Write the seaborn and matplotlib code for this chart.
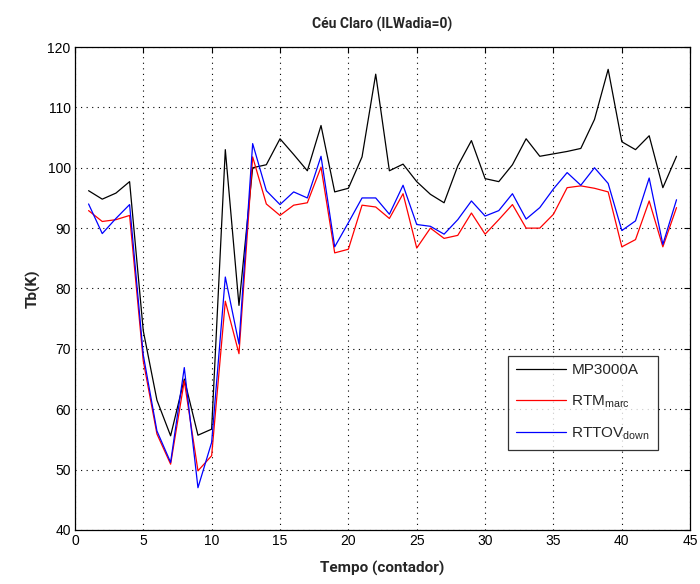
import numpy as np
import pandas as pd
import matplotlib
matplotlib.use("Agg")
import matplotlib.pyplot as plt
import seaborn as sns

# ==========================================
# Data
# ==========================================
tempo = list(range(1, 45))

mp3000a = [96.2, 94.8, 95.8, 97.7, 73.0, 61.5, 55.6, 65.0, 55.7, 56.7,
           103.0, 77.2, 100.0, 100.5, 104.8, 102.2, 99.5, 107.0, 96.0, 96.6,
           101.8, 115.5, 99.5, 100.6, 97.7, 95.6, 94.2, 100.3, 104.5, 98.2,
           97.7, 100.5, 104.8, 101.9, 102.3, 102.7, 103.2, 108.0, 116.3, 104.3,
           103.0, 105.3, 96.7, 101.9]

rtm_marc = [92.9, 91.1, 91.4, 92.1, 68.0, 55.9, 50.9, 64.7, 49.8, 52.3,
            77.9, 69.2, 101.8, 94.0, 92.1, 93.8, 94.2, 100.1, 85.9, 86.5,
            93.8, 93.5, 91.6, 95.7, 86.7, 90.0, 88.3, 88.8, 92.5, 89.0,
            91.4, 93.9, 90.0, 90.0, 92.3, 96.7, 97.0, 96.6, 96.0, 86.9,
            88.1, 94.5, 86.9, 93.4]

rttov_down = [94.0, 89.1, 91.6, 93.9, 69.0, 56.4, 51.2, 66.9, 47.0, 54.5,
              81.9, 70.8, 104.0, 96.2, 93.9, 96.0, 95.0, 101.9, 86.9, 90.9,
              95.0, 95.0, 92.3, 97.1, 90.6, 90.3, 89.0, 91.4, 94.5, 92.0,
              92.9, 95.7, 91.5, 93.4, 96.5, 99.2, 97.1, 100.0, 97.4, 89.6,
              91.2, 98.3, 87.3, 94.7]

series_names = ["MP3000A", "RTM", "RTTOV"]
series_labels = ["MP3000A", r"RTM$_{\mathrm{marc}}$", r"RTTOV$_{\mathrm{down}}$"]
series_colors = ["black", "red", "blue"]

x_ticks = list(range(0, 50, 5))
y_ticks = list(range(40, 130, 10))

# ==========================================
# Plot
# ==========================================
sns.set_style("white")
plt.rcParams["font.family"] = ["Liberation Sans", "DejaVu Sans"]
plt.rcParams["mathtext.fontset"] = "custom"
plt.rcParams["mathtext.rm"] = "Liberation Sans"
plt.rcParams["mathtext.it"] = "Liberation Sans"

df = pd.DataFrame({
    "Tempo": tempo * 3,
    "Tb": mp3000a + rtm_marc + rttov_down,
    "Serie": np.repeat(series_names, len(tempo)),
})

fig = plt.figure(figsize=(7.0, 5.84), dpi=100)
ax = fig.add_axes([0.107, 0.0925, 0.879, 0.827])

sns.lineplot(data=df, x="Tempo", y="Tb", hue="Serie", hue_order=series_names,
             palette=dict(zip(series_names, series_colors)), linewidth=0.9,
             legend=False, ax=ax)

ax.set_xlim(0, 45)
ax.set_ylim(40, 120)
ax.set_xticks(x_ticks)
ax.set_yticks(y_ticks)
ax.tick_params(direction="in", top=True, right=True, length=4, width=0.8,
               labelsize=10, colors="black", pad=3)
for spine in ax.spines.values():
    spine.set_color("black")
    spine.set_linewidth(0.9)

ax.grid(True, linestyle=(0, (1, 4)), color="black", linewidth=0.8)

title_font = ["Roboto", "DejaVu Sans"]
ax.set_title("Céu Claro (ILWadia=0)", fontsize=10, fontweight="bold",
             family=title_font, pad=13)
ax.set_xlabel("Tempo (contador)", fontsize=11, fontweight="bold",
              family=title_font, labelpad=9)
ax.set_ylabel("Tb(K)", fontsize=11, fontweight="bold",
              family=title_font, labelpad=5)

handles = [plt.Line2D([], [], color=c, linewidth=0.9) for c in series_colors]
leg = ax.legend(handles, series_labels, loc="lower left",
                bbox_to_anchor=(0.704, 0.166, 0.244, 0.192), mode="expand",
                fontsize=11, frameon=True, fancybox=False, handlelength=3.3,
                labelspacing=1.05, borderpad=0.5, handletextpad=0.35,
                borderaxespad=0)
leg.get_frame().set_edgecolor("black")
leg.get_frame().set_linewidth(0.9)

plt.savefig("out.png", dpi=100)
plt.close()
